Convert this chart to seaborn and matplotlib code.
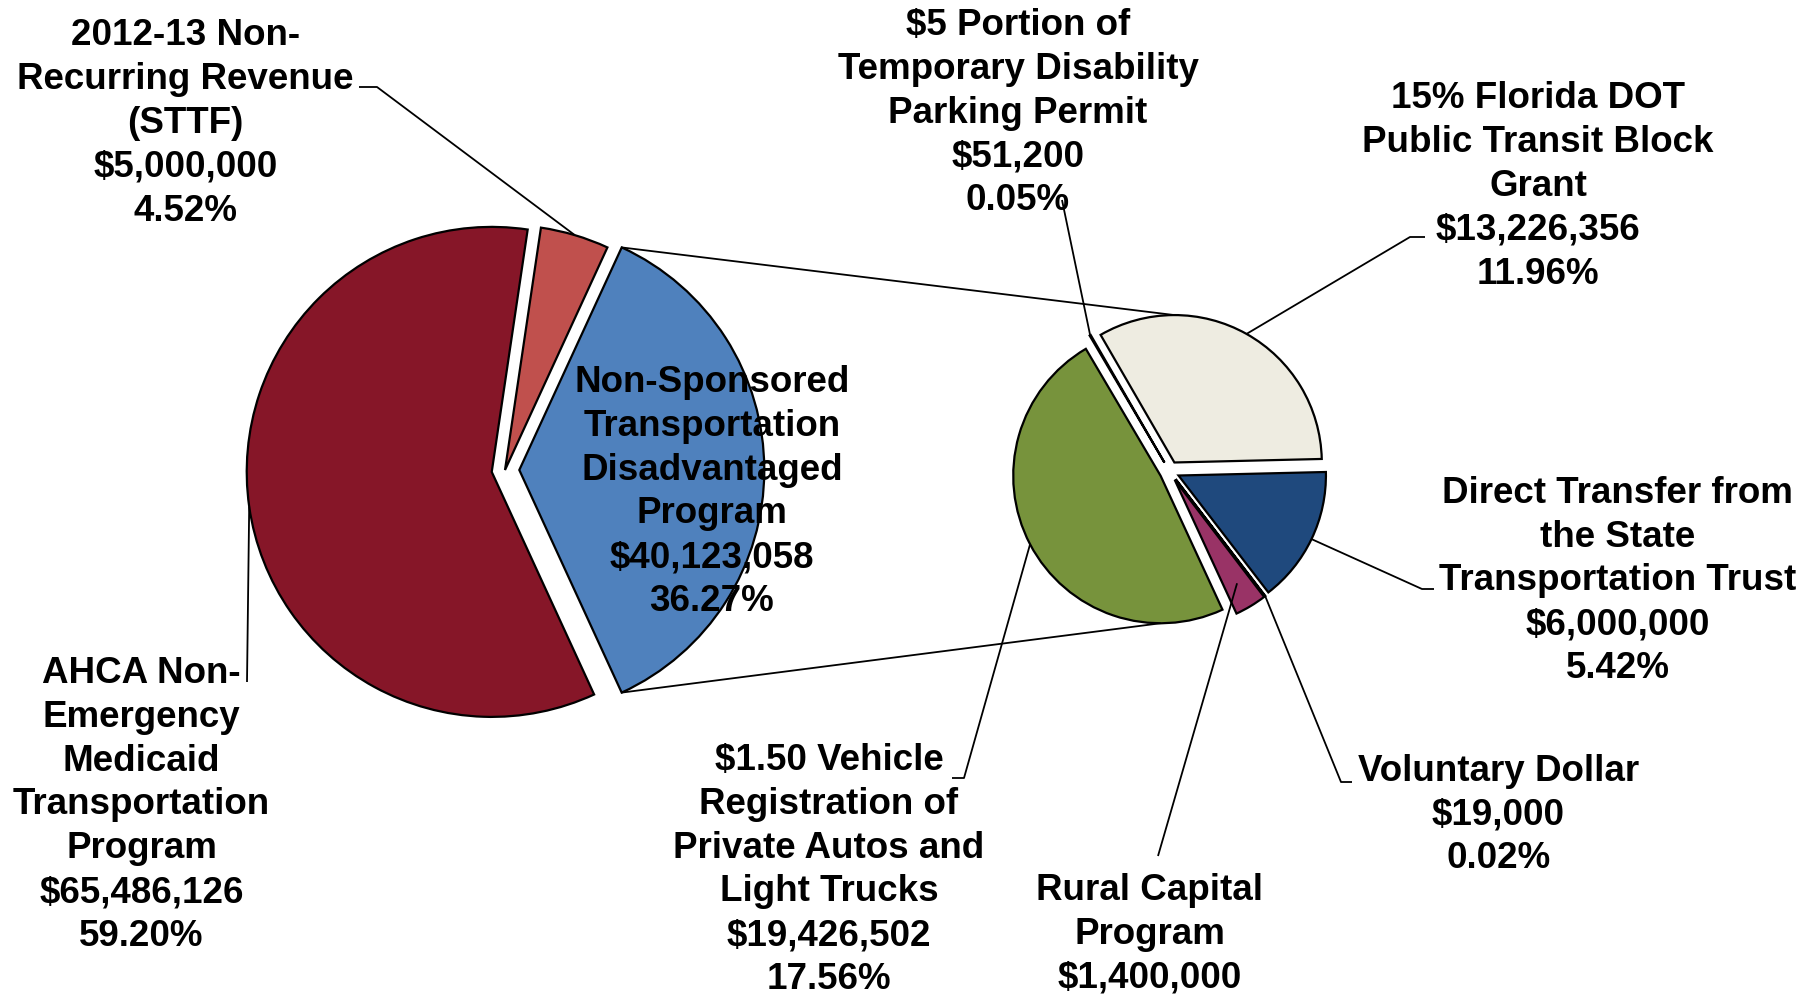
import numpy as np
import matplotlib
matplotlib.use("Agg")
import matplotlib.pyplot as plt
import seaborn as sns

W, H = 1818, 998

# ---- data ----
main_labels = ["Non-Sponsored\nTransportation\nDisadvantaged\nProgram",
               "2012-13 Non-\nRecurring Revenue\n(STTF)",
               "AHCA Non-\nEmergency\nMedicaid\nTransportation\nProgram"]
main_values = [40123058, 5000000, 65486126]
main_colors = ["#4F81BD", "#C0504D", "#861628"]

sub_labels = ["$5 Portion of\nTemporary Disability\nParking Permit",
              "15% Florida DOT\nPublic Transit Block\nGrant",
              "Direct Transfer from\nthe State\nTransportation Trust",
              "Voluntary Dollar",
              "Rural Capital\nProgram",
              "$1.50 Vehicle\nRegistration of\nPrivate Autos and\nLight Trucks"]
sub_values = [51200, 13226356, 6000000, 19000, 1400000, 19426502]
sub_colors = ["#FFFFFF", "#EEECE1", "#1F497D", "#FFFFFF", "#993366", "#77933C"]
sub_show_pct = [True, True, True, True, False, True]

total = sum(main_values)

sns.set_theme(style="white")
plt.rcParams['font.family'] = ['Liberation Sans', 'DejaVu Sans']

fig = plt.figure(figsize=(W / 100, H / 100), dpi=100)
ax = fig.add_axes([0, 0, 1, 1])


def Y(y):
    return H - y


edge = dict(edgecolor='black', linewidth=1.6)

wm, _ = ax.pie(main_values, colors=main_colors, radius=245, center=(505, Y(470)),
               startangle=-65.3, counterclock=True, explode=[14.3, 0.0, 13.4],
               wedgeprops=edge, frame=False)
ws, _ = ax.pie(sub_values, colors=sub_colors, radius=147.4, center=(1169.5, Y(471.2)),
               startangle=120.5, counterclock=False, explode=[10] * 6,
               wedgeprops=edge, frame=False)


def arc_pt(w, ang=None, frac=1.0):
    if ang is None:
        ang = 0.5 * (w.theta1 + w.theta2)
    cx, cy = w.center
    a = np.deg2rad(ang)
    return cx + frac * w.r * np.cos(a), cy + frac * w.r * np.sin(a)


lk = dict(color='black', linewidth=1.3, zorder=3, solid_capstyle='butt')

# connector lines between pies
blue = wm[0]
p1 = arc_pt(blue, blue.theta2)
q1 = arc_pt(ws[1], 90)
p2 = arc_pt(blue, blue.theta1)
q2 = arc_pt(ws[5], 270)
ax.plot([p1[0], q1[0]], [p1[1], q1[1]], **lk)
ax.plot([p2[0], q2[0]], [p2[1], q2[1]], **lk)

tk = dict(ha='center', va='center', fontsize=26.5, fontweight='bold',
          linespacing=1.33, color='black', zorder=6)


def fmt(v, pct=True):
    s = f"${v:,.0f}"
    if pct:
        s += f"\n{100 * v / total:.2f}%"
    return s


# main pie labels
main_pos = [(712, 492), (185.5, 123.5), (141.5, 805)]
main_leader = [None, [(377, 87), (359, 87)], [(247, 682)]]
for w, lab, v, pos, ld in zip(wm, main_labels, main_values, main_pos, main_leader):
    ax.text(pos[0], Y(pos[1]), lab + "\n" + fmt(v), **tk)
    if ld:
        s = arc_pt(w)
        xs = [s[0]] + [p[0] for p in ld]
        ys = [s[1]] + [Y(p[1]) for p in ld]
        ax.plot(xs, ys, **lk)

# secondary pie labels
sub_pos = [(1018, 113), (1538, 186.5), (1617.5, 581), (1498.5, 815), (1150, 934), (829, 870)]
sub_leader = [[(1062, 200)], [(1410, 237), (1425, 237)], [(1422, 589), (1434, 589)],
              [(1341, 782), (1352, 782)], [(1158, 856)], [(964, 778), (952, 778)]]
sub_start = [1.0, 1.0, 1.0, 1.0, 0.82, 1.0]
for w, lab, v, sp, pos, ld, fr in zip(ws, sub_labels, sub_values, sub_show_pct,
                                     sub_pos, sub_leader, sub_start):
    ax.text(pos[0], Y(pos[1]), lab + "\n" + fmt(v, sp), **tk)
    s = arc_pt(w, frac=fr)
    xs = [s[0]] + [p[0] for p in ld]
    ys = [s[1]] + [Y(p[1]) for p in ld]
    ax.plot(xs, ys, **lk)

ax.set_xlim(0, W)
ax.set_ylim(0, H)
ax.set_aspect('equal')
ax.axis('off')

fig.savefig('out.png', dpi=100)
